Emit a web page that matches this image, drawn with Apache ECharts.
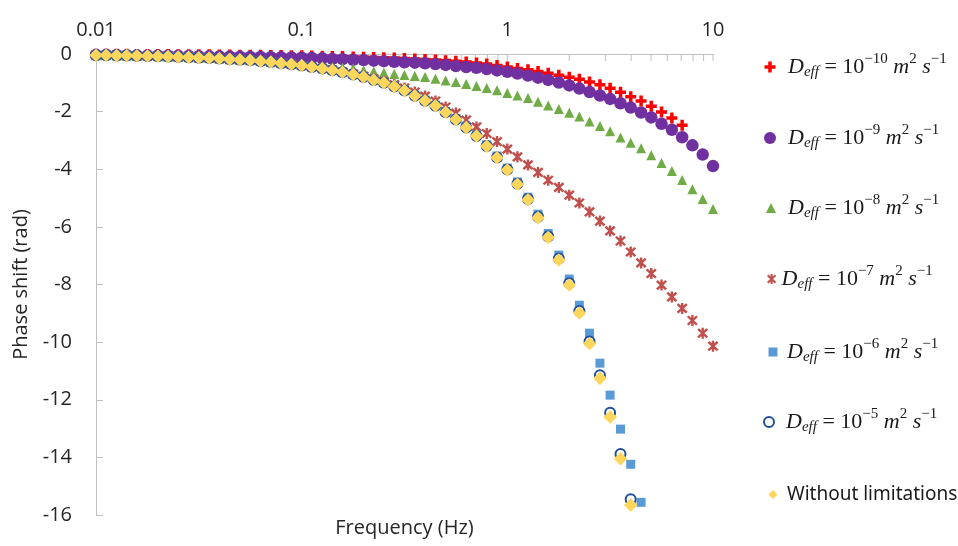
<!DOCTYPE html>
<html><head><meta charset="utf-8">
<script src="https://cdn.jsdelivr.net/npm/echarts@6/dist/echarts.min.js"></script>
<style>html,body{margin:0;padding:0;background:#fff}#c{width:958px;height:546px}</style>
</head><body><div id="c"></div>
<script>
// Frequency grid (Hz)
const freq = [0.01,0.0112,0.0126,0.0141,0.0158,0.0178,0.02,0.0224,0.0251,0.0282,
  0.0316,0.0355,0.0398,0.0447,0.0501,0.0562,0.0631,0.0708,0.0794,0.0891,
  0.1,0.112,0.126,0.141,0.158,0.178,0.2,0.224,0.251,0.282,
  0.316,0.355,0.398,0.447,0.501,0.562,0.631,0.708,0.794,0.891,
  1,1.12,1.26,1.41,1.58,1.78,2,2.24,2.51,2.82,
  3.16,3.55,3.98,4.47,5.01,5.62,6.31,7.08,7.94,8.91,10];

// Phase shift (rad) per series
const deff1e10 = [-0.01,-0.01,-0.012,-0.013,-0.015,-0.017,-0.019,-0.021,-0.023,-0.025,
  -0.027,-0.03,-0.033,-0.036,-0.04,-0.043,-0.047,-0.05,-0.055,-0.06,
  -0.065,-0.07,-0.076,-0.083,-0.09,-0.10,-0.11,-0.12,-0.13,-0.14,
  -0.16,-0.17,-0.19,-0.21,-0.23,-0.25,-0.28,-0.31,-0.35,-0.40,
  -0.45,-0.50,-0.55,-0.61,-0.67,-0.74,-0.81,-0.88,-0.97,-1.07,
  -1.19,-1.33,-1.48,-1.63,-1.81,-2.01,-2.22,-2.47];
const deff1e9 = [-0.03,-0.03,-0.035,-0.04,-0.045,-0.05,-0.055,-0.06,-0.065,-0.07,
  -0.075,-0.08,-0.085,-0.09,-0.095,-0.10,-0.105,-0.11,-0.115,-0.12,
  -0.13,-0.14,-0.15,-0.17,-0.18,-0.20,-0.21,-0.23,-0.25,-0.27,
  -0.29,-0.30,-0.32,-0.35,-0.38,-0.42,-0.45,-0.48,-0.52,-0.57,
  -0.62,-0.68,-0.75,-0.82,-0.90,-0.99,-1.09,-1.20,-1.32,-1.44,
  -1.56,-1.71,-1.86,-2.03,-2.20,-2.42,-2.63,-2.89,-3.17,-3.49,-3.89];
const deff1e8 = [-0.04,-0.045,-0.05,-0.056,-0.063,-0.071,-0.08,-0.09,-0.10,-0.11,
  -0.13,-0.14,-0.16,-0.18,-0.20,-0.21,-0.24,-0.27,-0.30,-0.33,
  -0.36,-0.39,-0.42,-0.45,-0.47,-0.50,-0.56,-0.61,-0.65,-0.69,
  -0.73,-0.76,-0.80,-0.86,-0.92,-0.97,-1.04,-1.11,-1.18,-1.26,
  -1.35,-1.44,-1.53,-1.66,-1.79,-1.91,-2.04,-2.17,-2.34,-2.50,
  -2.68,-2.90,-3.08,-3.27,-3.51,-3.78,-4.06,-4.37,-4.69,-5.03,-5.38];
const deff1e7 = [-0.04,-0.045,-0.05,-0.056,-0.063,-0.071,-0.08,-0.09,-0.10,-0.11,
  -0.13,-0.14,-0.16,-0.18,-0.20,-0.22,-0.25,-0.28,-0.32,-0.36,
  -0.40,-0.45,-0.50,-0.55,-0.62,-0.69,-0.77,-0.86,-0.95,-1.06,
  -1.18,-1.32,-1.46,-1.63,-1.84,-2.05,-2.29,-2.53,-2.76,-3.04,
  -3.30,-3.57,-3.85,-4.11,-4.38,-4.63,-4.90,-5.17,-5.48,-5.80,
  -6.14,-6.49,-6.87,-7.25,-7.62,-8.02,-8.43,-8.83,-9.25,-9.69,-10.14];
const deff1e6 = [-0.04,-0.045,-0.05,-0.056,-0.063,-0.071,-0.08,-0.09,-0.10,-0.11,
  -0.13,-0.14,-0.16,-0.18,-0.20,-0.22,-0.25,-0.28,-0.32,-0.36,
  -0.40,-0.45,-0.50,-0.56,-0.63,-0.71,-0.79,-0.89,-0.99,-1.12,
  -1.26,-1.43,-1.60,-1.78,-1.99,-2.24,-2.51,-2.81,-3.15,-3.54,
  -3.96,-4.44,-4.97,-5.56,-6.23,-6.98,-7.81,-8.72,-9.69,-10.73,
  -11.84,-13.02,-14.24,-15.56];
const deff1e5 = [-0.04,-0.045,-0.05,-0.056,-0.063,-0.071,-0.08,-0.09,-0.10,-0.11,
  -0.13,-0.14,-0.16,-0.18,-0.20,-0.22,-0.25,-0.28,-0.32,-0.36,
  -0.40,-0.45,-0.50,-0.56,-0.63,-0.71,-0.80,-0.90,-1.00,-1.13,
  -1.27,-1.45,-1.62,-1.80,-2.02,-2.27,-2.55,-2.85,-3.19,-3.59,
  -4.01,-4.50,-5.03,-5.65,-6.33,-7.10,-7.96,-8.92,-9.98,-11.15,
  -12.45,-13.88,-15.45];
const unlimited = [-0.04,-0.045,-0.05,-0.056,-0.063,-0.071,-0.08,-0.09,-0.10,-0.11,
  -0.13,-0.14,-0.16,-0.18,-0.20,-0.22,-0.25,-0.28,-0.32,-0.36,
  -0.40,-0.45,-0.50,-0.56,-0.63,-0.71,-0.80,-0.90,-1.00,-1.13,
  -1.27,-1.45,-1.62,-1.80,-2.02,-2.27,-2.55,-2.85,-3.20,-3.60,
  -4.03,-4.52,-5.06,-5.68,-6.37,-7.15,-8.02,-8.99,-10.05,-11.25,
  -12.6,-14.05,-15.65];

// Axis ticks
const xTickValues = [0.01,0.02,0.03,0.04,0.05,0.06,0.07,0.08,0.09,
  0.1,0.2,0.3,0.4,0.5,0.6,0.7,0.8,0.9,1,2,3,4,5,6,7,8,9,10];
const xTickLabels = ['0.01','0.1','1','10'];
const yTickLabels = ['0','-2','-4','-6','-8','-10','-12','-14','-16'];

const seriesNames = ['D1e-10','D1e-9','D1e-8','D1e-7','D1e-6','D1e-5','Without limitations'];
const legendExp = ['\u221210','\u22129','\u22128','\u22127','\u22126','\u22125'];
const seriesValues = [deff1e10, deff1e9, deff1e8, deff1e7, deff1e6, deff1e5, unlimited];

const plusPath = 'path://M3.4,0H6.6V3.4H10V6.6H6.6V10H3.4V6.6H0V3.4H3.4Z';
const starPath = 'path://M4,0L6,0L6,10L4,10Z' +
  'M1.9,0.4L9.6,8.1L8.1,9.6L0.4,1.9Z' +
  'M9.6,1.9L1.9,9.6L0.4,8.1L8.1,0.4Z';

const styles = [
  {symbol: plusPath, size: 11, itemStyle: {color: '#FF0000'}},
  {symbol: 'circle', size: 12.5, itemStyle: {color: '#7030A0'}},
  {symbol: 'triangle', size: 10, itemStyle: {color: '#6FAC46'}},
  {symbol: starPath, size: 11, itemStyle: {color: '#C0504D'}},
  {symbol: 'rect', size: 9, itemStyle: {color: '#5B9BD5'}},
  {symbol: 'emptyCircle', size: 10, itemStyle: {color: '#1F4E9A', borderWidth: 2.2}},
  {symbol: 'diamond', size: 13.5, itemStyle: {color: '#FFD65C'}}
];

const series = seriesNames.map((name, k) => ({
  name: name,
  type: 'scatter',
  symbol: styles[k].symbol,
  symbolSize: styles[k].size,
  itemStyle: Object.assign({opacity: 1}, styles[k].itemStyle),
  data: seriesValues[k].map((v, i) => [freq[i], v]),
  z: 3 + k
}));

series.push({
  type: 'custom',
  name: 'ticks',
  silent: true,
  clip: false,
  z: 1,
  data: xTickValues.map(t => [t, 0]),
  renderItem: function (params, api) {
    const p = api.coord([api.value(0), 0]);
    return {type: 'line', shape: {x1: p[0], y1: p[1], x2: p[0], y2: p[1] + 7},
      style: {stroke: '#BFBFBF', lineWidth: 1}};
  }
});

const serif = 'Liberation Serif';
const ink = '#1a1a1a';
const rich = {
  d: {fontFamily: serif, fontStyle: 'italic', fontSize: 22, color: ink},
  n: {fontFamily: serif, fontSize: 22, color: ink},
  sub: {fontFamily: serif, fontStyle: 'italic', fontSize: 15, color: ink, padding: [11, 0, 0, 0]},
  sup: {fontFamily: serif, fontSize: 15, color: ink, padding: [0, 0, 15, 0]}
};
function deffLabel(exp) {
  return '{g|}{d|D}{sub|eff}{n| = 10}{sup|' + exp + '}{d| m}{sup|2}{d| s}{sup|\u22121}';
}

const legendCenters = [66, 137, 207, 278, 351, 421, 493];
const legendIconX = [765, 765, 766, 767, 768, 763, 768];
const legendTextX = [788, 788, 788, 782, 787, 785, 787];
const legendIconSize = [11, 12, 10, 10, 9, 10, 9];
const legends = seriesNames.map((name, k) => {
  const s = legendIconSize[k];
  const left = legendIconX[k] - s / 2;
  const pad = Math.max(0, legendTextX[k] - (left + s + 5) - 5);
  return {
    data: [name],
    left: left,
    top: k < 6 ? legendCenters[k] - 19 : legendCenters[k] - 13,
    itemWidth: s,
    itemHeight: s,
    selectedMode: false,
    formatter: k < 6 ? () => deffLabel(legendExp[k]) : (n => n),
    textStyle: k < 6
      ? {rich: Object.assign({}, rich, {g: {width: pad}}), fontSize: 22}
      : {fontFamily: 'Noto Sans', fontSize: 19, color: ink, padding: [0, 0, 0, pad]}
  };
});

const labelFont = {fontFamily: 'Open Sans', fontSize: 20, color: '#262626'};

const chart = echarts.init(document.getElementById('c'));
chart.setOption({
  animation: false,
  backgroundColor: '#fff',
  grid: {left: 96, right: 245, top: 54, bottom: 31},
  legend: legends,
  xAxis: [{
    type: 'log', logBase: 10, min: 0.01, max: 10, position: 'top',
    axisLine: {show: true, lineStyle: {color: '#BFBFBF', width: 1}},
    axisTick: {show: false},
    splitLine: {show: false},
    minorTick: {show: false},
    axisLabel: Object.assign({margin: 14, formatter: v => {
      const idx = [0.01, 0.1, 1, 10].findIndex(t => Math.abs(t - v) / t < 1e-6);
      return idx >= 0 ? xTickLabels[idx] : '';
    }}, labelFont)
  }, {
    type: 'log', logBase: 10, min: 0.01, max: 10, position: 'bottom',
    axisLine: {show: false}, axisTick: {show: false}, axisLabel: {show: false}, splitLine: {show: false},
    name: 'Frequency (Hz)', nameLocation: 'middle', nameGap: 3,
    nameTextStyle: {fontFamily: 'Open Sans', fontSize: 20, color: '#262626'}
  }],
  yAxis: {
    type: 'value', min: -16, max: 0, interval: 2,
    axisLine: {show: true, lineStyle: {color: '#BFBFBF', width: 1}},
    axisTick: {show: true, inside: true, length: 7, lineStyle: {color: '#BFBFBF'}},
    splitLine: {show: false},
    axisLabel: Object.assign({margin: 24, formatter: v => yTickLabels[Math.round(-v / 2)]}, labelFont),
    name: 'Phase shift (rad)', nameLocation: 'middle', nameGap: 64, nameRotate: 90,
    nameTextStyle: {fontFamily: 'Open Sans', fontSize: 20, color: '#262626'}
  },
  series: series
});
</script>
</body></html>
